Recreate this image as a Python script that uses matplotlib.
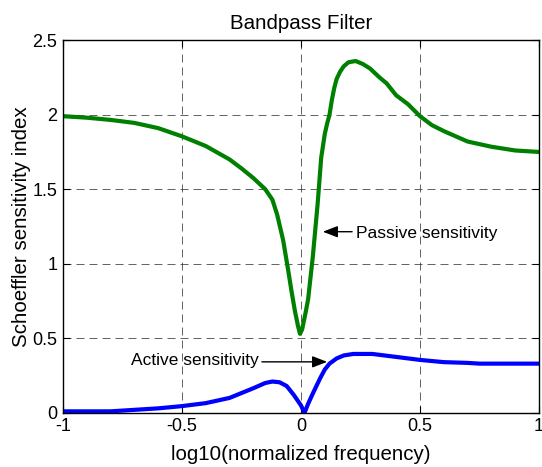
import matplotlib
matplotlib.use("Agg")
import matplotlib.pyplot as plt

plt.rcParams['font.family'] = ['Liberation Sans', 'DejaVu Sans']

passive_x = [-1.0, -0.9, -0.8, -0.7, -0.6, -0.5, -0.4, -0.3, -0.25, -0.2, -0.15, -0.12, -0.1,
             -0.075, -0.055, -0.04, -0.025, -0.012, -0.004, 0.005, 0.018, 0.03, 0.05, 0.07,
             0.085, 0.1, 0.11, 0.12, 0.13, 0.14, 0.15, 0.165, 0.18, 0.2, 0.23, 0.26, 0.29, 0.33,
             0.36, 0.4, 0.45, 0.5, 0.55, 0.6, 0.7, 0.8, 0.9, 1.0]
passive_y = [1.99, 1.98, 1.965, 1.945, 1.91, 1.855, 1.79, 1.70, 1.64, 1.575, 1.50, 1.43, 1.33,
             1.16, 0.97, 0.82, 0.68, 0.58, 0.53, 0.56, 0.66, 0.76, 1.05, 1.40,
             1.71, 1.87, 1.94, 2.0, 2.1, 2.18, 2.24, 2.29, 2.325, 2.352, 2.36, 2.34, 2.31, 2.25,
             2.21, 2.13, 2.07, 1.99, 1.93, 1.89, 1.82, 1.785, 1.76, 1.75]

active_x = [-1.0, -0.9, -0.8, -0.75, -0.7, -0.6, -0.5, -0.4, -0.3, -0.2, -0.15, -0.12, -0.09,
            -0.06, -0.03, 0.0, 0.015, 0.03, 0.05, 0.08, 0.1, 0.12, 0.15, 0.18, 0.22, 0.3, 0.4,
            0.5, 0.6, 0.7, 0.75, 0.8, 0.9, 1.0]
active_y = [0.01, 0.01, 0.01, 0.015, 0.02, 0.03, 0.045, 0.065, 0.10, 0.165, 0.20, 0.21, 0.205,
            0.18, 0.12, 0.05, 0.0, 0.06, 0.13, 0.23, 0.29, 0.33, 0.365, 0.385, 0.395, 0.395, 0.375,
            0.355, 0.34, 0.335, 0.33, 0.33, 0.33, 0.33]

x_ticks = [-1, -0.5, 0, 0.5, 1]
x_tick_labels = ['-1', '-0.5', '0', '0.5', '1']
y_ticks = [0, 0.5, 1, 1.5, 2, 2.5]
y_tick_labels = ['0', '0.5', '1', '1.5', '2', '2.5']

fig = plt.figure(figsize=(5.42, 4.67), dpi=100)
ax = fig.add_axes([0.116, 0.116, 0.8785, 0.798])

ax.plot(passive_x, passive_y, color='#008000', lw=3, solid_joinstyle='round')
ax.plot(active_x, active_y, color='#0000ff', lw=3, solid_joinstyle='round')

ax.set_xlim(-1, 1)
ax.set_ylim(0, 2.5)
ax.set_xticks(x_ticks)
ax.set_xticklabels(x_tick_labels)
ax.set_yticks(y_ticks)
ax.set_yticklabels(y_tick_labels)
ax.tick_params(direction='in', length=5, width=0.8, labelsize=13, top=True, right=True, pad=4)
ax.grid(True, color='#333333', linestyle=(0, (9.6, 6)), lw=0.6, alpha=0.9)
for s in ax.spines.values():
    s.set_linewidth(1.0)

ax.set_title('Bandpass Filter', fontsize=14.8, pad=8)
ax.set_xlabel('log10(normalized frequency)', fontsize=14.8, labelpad=7)
ax.set_ylabel('Schoeffler sensitivity index', fontsize=14.8, labelpad=1)

ap = dict(arrowstyle='-|>,head_length=0.9,head_width=0.35', color='black', lw=1,
          shrinkA=0, shrinkB=0)
ax.annotate('', xy=(0.092, 1.215), xytext=(0.215, 1.215), arrowprops=ap)
ax.text(0.231, 1.20, 'Passive sensitivity', fontsize=12.5, va='center', ha='left')
ax.annotate('', xy=(0.11, 0.342), xytext=(-0.164, 0.342), arrowprops=ap)
ax.text(-0.714, 0.35, 'Active sensitivity', fontsize=12.5, va='center', ha='left')

fig.savefig('out.png', dpi=100)
